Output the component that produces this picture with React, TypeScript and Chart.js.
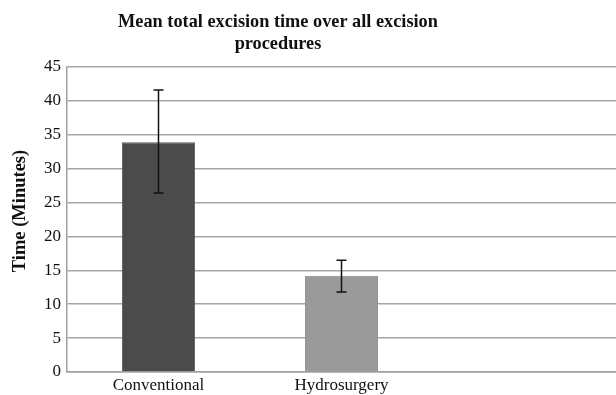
import React, { useEffect, useRef } from "react";
import { Chart, registerables } from "chart.js";

Chart.register(...registerables);

const categories = ["Conventional", "Hydrosurgery", ""];
const meanValues = [33.9, 14.2, null];
const errLow = [26.4, 11.8, null];
const errHigh = [41.6, 16.5, null];
const barColors = ["#4b4b4b", "#9a9a9a", "#9a9a9a"];
const titleLines = ["Mean total excision time over all excision", "procedures"];
const yTitle = "Time (Minutes)";

const errorBarPlugin = {
  id: "errorBars",
  afterDatasetsDraw(chart: any) {
    const ctx = chart.ctx;
    const meta = chart.getDatasetMeta(0);
    const y = chart.scales.y;
    ctx.save();
    ctx.strokeStyle = "#111";
    ctx.lineWidth = 1.5;
    meta.data.forEach((bar: any, i: number) => {
      if (errLow[i] == null || errHigh[i] == null) return;
      const x = bar.x;
      const yl = y.getPixelForValue(errLow[i]);
      const yh = y.getPixelForValue(errHigh[i]);
      ctx.beginPath();
      ctx.moveTo(x, yl);
      ctx.lineTo(x, yh);
      ctx.moveTo(x - 5, yl);
      ctx.lineTo(x + 5, yl);
      ctx.moveTo(x - 5, yh);
      ctx.lineTo(x + 5, yh);
      ctx.stroke();
    });
    ctx.restore();
  },
};

const titlePlugin = {
  id: "customTitle",
  afterDraw(chart: any) {
    const ctx = chart.ctx;
    ctx.save();
    ctx.fillStyle = "#111";
    ctx.font = "bold 18.3px 'Liberation Serif'";
    ctx.textAlign = "center";
    ctx.textBaseline = "middle";
    titleLines.forEach((line, i) => {
      ctx.fillText(line, 278, 22 + i * 22);
    });
    ctx.font = "bold 18.5px 'Liberation Serif'";
    ctx.translate(20, 211);
    ctx.rotate(-Math.PI / 2);
    ctx.fillText(yTitle, 0, 0);
    ctx.restore();
  },
};

export default function App() {
  const ref = useRef<HTMLCanvasElement>(null);
  useEffect(() => {
    document.body.style.margin = "0";
    const chart = new Chart(ref.current!, {
      type: "bar",
      data: {
        labels: categories,
        datasets: [
          {
            data: meanValues as any,
            backgroundColor: barColors,
            borderColor: ["#5a5a5a", "#8a8a8a", "#8a8a8a"],
            borderWidth: 1,
            barPercentage: 0.4,
            categoryPercentage: 1,
          },
        ],
      },
      options: {
        animation: false,
        responsive: false,
        maintainAspectRatio: false,
        layout: { padding: { top: 67, right: 0, left: 0, bottom: 0 } },
        plugins: {
          legend: { display: false },
          tooltip: { enabled: false },
          title: { display: false },
        },
        scales: {
          x: {
            grid: { display: false, drawTicks: false },
            border: { display: true, color: "#a0a0a0", width: 1.5 },
            ticks: {
              color: "#111",
              font: { family: "'Liberation Serif'", size: 17 },
              padding: 3,
              maxRotation: 0,
            },
            afterFit(scale: any) {
              scale.height = 23;
            },
          },
          y: {
            min: 0,
            max: 45,
            ticks: {
              stepSize: 5,
              color: "#111",
              font: { family: "'Liberation Serif'", size: 17 },
              padding: 6,
            },
            grid: { color: "#a5a5a5", lineWidth: 1.5, drawTicks: false },
            border: { display: true, color: "#a0a0a0", width: 1.5 },
            afterFit(scale: any) {
              scale.width = 67;
            },
          },
        },
      },
      plugins: [errorBarPlugin, titlePlugin],
    });
    return () => chart.destroy();
  }, []);
  return (
    <div style={{ width: 616, height: 395 }}>
      <canvas ref={ref} width={616} height={395} style={{ width: 616, height: 395 }} />
    </div>
  );
}
